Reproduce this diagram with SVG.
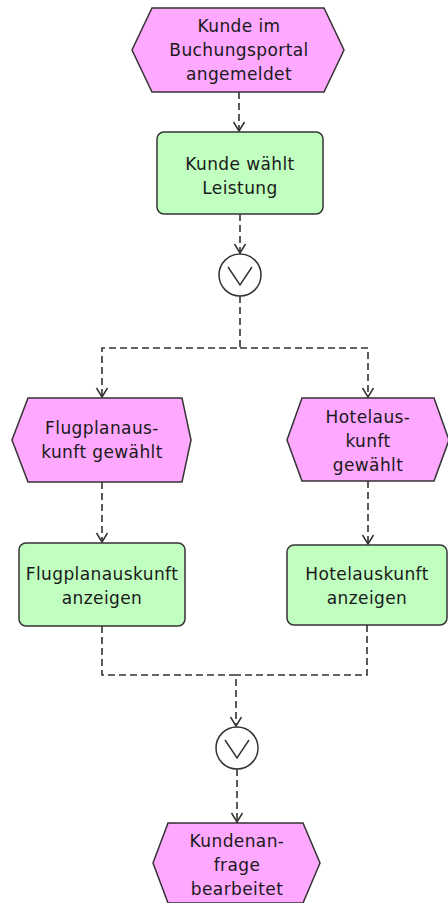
<svg xmlns="http://www.w3.org/2000/svg" width="448" height="903" viewBox="0 0 448 903">
  <style>
    .event { fill: #ffa8ff; stroke: #333333; stroke-width: 1.5; stroke-linejoin: miter; }
    .func { fill: #c0ffc0; stroke: #333333; stroke-width: 1.5; }
    .conn { fill: #ffffff; stroke: #333333; stroke-width: 1.5; }
    .sym { fill: none; stroke: #333333; stroke-width: 1.5; }
    .edge { fill: none; stroke: #333333; stroke-width: 1.6; stroke-dasharray: 7 4; }
    text { font-family: "DejaVu Sans", Verdana, sans-serif; font-size: 17px; fill: #1a1a1a; text-anchor: middle; letter-spacing: 0.4px; }
  </style>
  <defs>
    <marker id="arrow" markerUnits="userSpaceOnUse" markerWidth="14" markerHeight="14" viewBox="-11 -7 13 14" refX="0" refY="0" orient="auto">
      <path d="M-9,-5.5 L0,0 L-9,5.5" fill="none" stroke="#333333" stroke-width="1.5" stroke-dasharray="none"/>
    </marker>
  </defs>

  <!-- control flow -->
  <g id="connectors">
    <path class="edge" d="M239,92 V131" marker-end="url(#arrow)"/>
    <path class="edge" d="M240,214 V253" marker-end="url(#arrow)"/>
    <path class="edge" d="M240,296 V348 H102 V397" marker-end="url(#arrow)"/>
    <path class="edge" d="M240,348 H368 V397" marker-end="url(#arrow)"/>
    <path class="edge" d="M102,482 V542" marker-end="url(#arrow)"/>
    <path class="edge" d="M368,481 V544" marker-end="url(#arrow)"/>
    <path class="edge" d="M102,626 V675 H236 V726" marker-end="url(#arrow)"/>
    <path class="edge" d="M367,625 V675 H236"/>
    <path class="edge" d="M237,769 V822" marker-end="url(#arrow)"/>
  </g>

  <g id="ev-angemeldet">
    <polygon class="event" points="152,8 324,8 344,50 324,92 152,92 132,50"/>
    <text x="239" y="32">Kunde im</text>
    <text x="239" y="56">Buchungsportal</text>
    <text x="239" y="80">angemeldet</text>
  </g>

  <g id="fn-leistung">
    <rect class="func" x="157" y="132" width="166" height="82" rx="7"/>
    <text x="240" y="170">Kunde wählt</text>
    <text x="240" y="194">Leistung</text>
  </g>

  <g id="or-split">
    <circle class="conn" cx="240" cy="275" r="21"/>
    <path class="sym" d="M228,267 L240,285 L252,267"/>
  </g>

  <g id="ev-flug">
    <polygon class="event" points="28,398 182,398 191,440 182,482 28,482 12,440"/>
    <text x="102" y="434">Flugplanaus-</text>
    <text x="102" y="458">kunft gewählt</text>
  </g>

  <g id="ev-hotel">
    <polygon class="event" points="302,398 434,398 449,440 434,481 302,481 287,440"/>
    <text x="368" y="423">Hotelaus-</text>
    <text x="368" y="447">kunft</text>
    <text x="368" y="471">gewählt</text>
  </g>

  <g id="fn-flug">
    <rect class="func" x="19" y="543" width="166" height="83" rx="7"/>
    <text x="102" y="580">Flugplanauskunft</text>
    <text x="102" y="604">anzeigen</text>
  </g>

  <g id="fn-hotel">
    <rect class="func" x="287" y="545" width="160" height="80" rx="7"/>
    <text x="367" y="580">Hotelauskunft</text>
    <text x="367" y="604">anzeigen</text>
  </g>

  <g id="or-join">
    <circle class="conn" cx="237" cy="748" r="21"/>
    <path class="sym" d="M225,740 L237,758 L249,740"/>
  </g>

  <g id="ev-bearbeitet">
    <polygon class="event" points="168,823 303,823 320,863 303,903 168,903 153,863"/>
    <text x="237" y="847">Kundenan-</text>
    <text x="237" y="871">frage</text>
    <text x="237" y="895">bearbeitet</text>
  </g>
</svg>
